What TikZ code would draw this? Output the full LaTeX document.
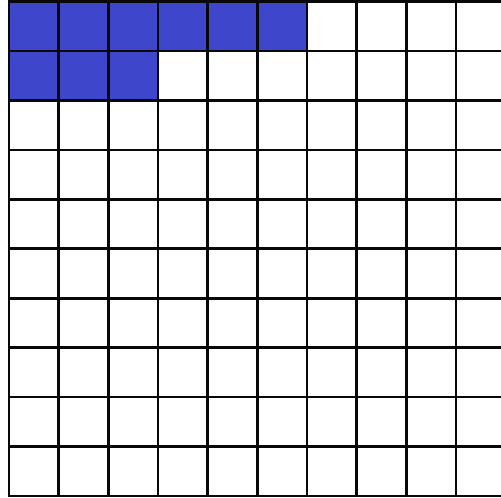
\documentclass[tikz,border=0pt]{standalone}
\usetikzlibrary{positioning}
\definecolor{cellblue}{RGB}{62, 71, 204}
\definecolor{inkblack}{RGB}{8, 8, 8}

\begin{document}
\begin{tikzpicture}[
            x=1pt, y=-1pt,
            filled/.style={fill=cellblue},
            gridline/.style={draw=inkblack, line width=2.6pt}
        ]
            \useasboundingbox (0,0) rectangle (501,498);
            \clip (0,0) rectangle (501,498);
            % shaded cells: 6 in the first row, 3 in the second
            \foreach \c in {0,...,5}
                \fill[filled] (9+49.65*\c, 1.5) rectangle ++(49.65, 49.45);
            \foreach \c in {0,...,2}
                \fill[filled] (9+49.65*\c, 50.95) rectangle ++(49.65, 49.45);
            % grid
            \foreach \i in {0,...,10}
                \draw[gridline] (9+49.65*\i, 0.2) -- (9+49.65*\i, 496.8);
            \foreach \j in {0,...,10}
                \draw[gridline] (7.7, 1.5+49.45*\j) -- (510, 1.5+49.45*\j);
        \end{tikzpicture}
\end{document}
